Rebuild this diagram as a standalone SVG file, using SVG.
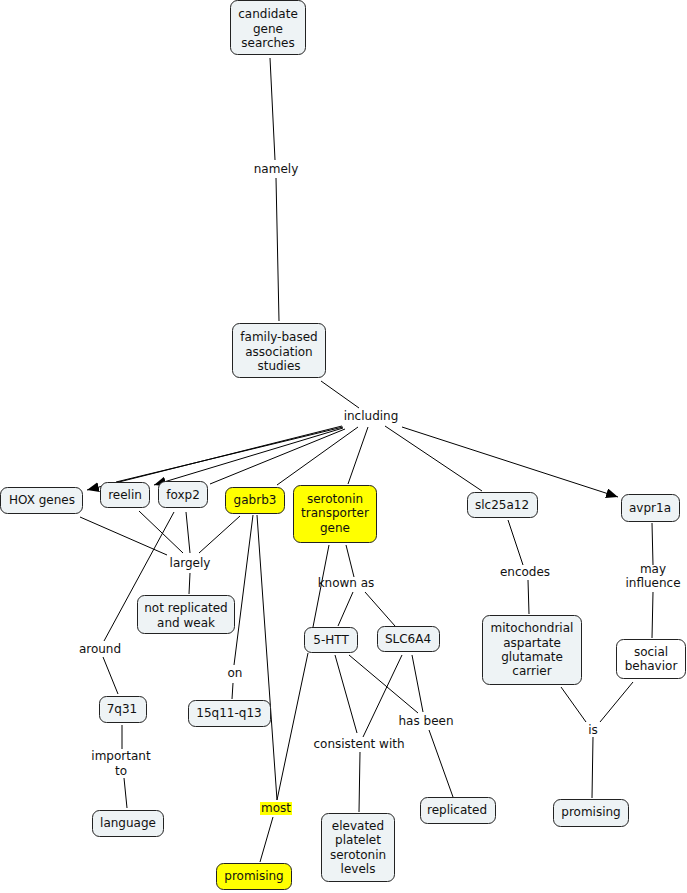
<svg xmlns="http://www.w3.org/2000/svg" width="687" height="893" viewBox="0 0 687 893">
<defs>
<marker id="arr" viewBox="0 0 12 10" refX="12" refY="5" markerWidth="12" markerHeight="10" markerUnits="userSpaceOnUse" orient="auto">
<path d="M0,0 L12,5 L0,10 z" fill="#000"/>
</marker>
<style>
.n{fill:#eef3f5;stroke:#222;stroke-width:1}
.y{fill:#ffff00;stroke:#222;stroke-width:1}
.w{fill:#ffffff;stroke:#222;stroke-width:1}
text{font-family:"DejaVu Sans",Verdana,sans-serif;font-size:12px;fill:#111;text-anchor:middle}
.c line{stroke:#000;stroke-width:1}
</style>
</defs>
<rect width="687" height="893" fill="#fff"/>
<g class="c" id="connectors">
<line x1="270" y1="58" x2="275" y2="160"/>
<line x1="276" y1="178" x2="279" y2="321"/>
<line x1="321" y1="381" x2="359" y2="408"/>
<line x1="342" y1="426" x2="87" y2="490" marker-end="url(#arr)"/>
<line x1="343" y1="427" x2="116" y2="482"/>
<line x1="343" y1="428" x2="154" y2="485" marker-end="url(#arr)"/>
<line x1="345" y1="429" x2="210" y2="484"/>
<line x1="358" y1="427" x2="277" y2="485"/>
<line x1="368" y1="427" x2="348" y2="484"/>
<line x1="385" y1="426" x2="482" y2="491"/>
<line x1="402" y1="427" x2="618" y2="497" marker-end="url(#arr)"/>
<line x1="80" y1="517" x2="167" y2="555"/>
<line x1="139" y1="511" x2="183" y2="553"/>
<line x1="186" y1="512" x2="190" y2="553"/>
<line x1="240" y1="516" x2="199" y2="553"/>
<line x1="190" y1="573" x2="189" y2="594"/>
<line x1="174" y1="512" x2="104" y2="641"/>
<line x1="103" y1="657" x2="118" y2="694"/>
<line x1="122" y1="725" x2="122" y2="749"/>
<line x1="124" y1="778" x2="127" y2="808"/>
<line x1="253" y1="515" x2="234" y2="665"/>
<line x1="233" y1="683" x2="232" y2="699"/>
<line x1="257" y1="515" x2="277" y2="800"/>
<line x1="273" y1="817" x2="260" y2="862"/>
<line x1="308" y1="653" x2="277" y2="800"/>
<line x1="329" y1="545" x2="313" y2="627"/>
<line x1="346" y1="545" x2="354" y2="577"/>
<line x1="353" y1="592" x2="338" y2="626"/>
<line x1="365" y1="592" x2="395" y2="626"/>
<line x1="335" y1="655" x2="357" y2="733"/>
<line x1="402" y1="655" x2="363" y2="737"/>
<line x1="360" y1="752" x2="359" y2="812"/>
<line x1="349" y1="655" x2="418" y2="713"/>
<line x1="412" y1="655" x2="423" y2="712"/>
<line x1="429" y1="730" x2="453" y2="797"/>
<line x1="508" y1="520" x2="523" y2="565"/>
<line x1="528" y1="580" x2="529" y2="614"/>
<line x1="652" y1="523" x2="653" y2="565"/>
<line x1="653" y1="592" x2="652" y2="638"/>
<line x1="561" y1="687" x2="586" y2="722"/>
<line x1="633" y1="682" x2="600" y2="722"/>
<line x1="593" y1="737" x2="592" y2="798"/>
</g>
<g id="candidate"><rect class="n" x="230.5" y="0.5" width="75" height="54" rx="7"/><text x="268" y="18">candidate</text><text x="268" y="33">gene</text><text x="268" y="47">searches</text></g>
<g id="family"><rect class="n" x="232.5" y="323.5" width="93" height="54" rx="7"/><text x="279" y="341">family-based</text><text x="279" y="356">association</text><text x="279" y="370">studies</text></g>
<g id="hox"><rect class="n" x="0.5" y="487.5" width="82" height="26" rx="7"/><text x="42" y="504">HOX genes</text></g>
<g id="reelin"><rect class="n" x="100.5" y="482.5" width="49" height="25" rx="7"/><text x="125" y="499">reelin</text></g>
<g id="foxp2"><rect class="n" x="158.5" y="481.5" width="49" height="26" rx="7"/><text x="183" y="499">foxp2</text></g>
<g id="gabrb3"><rect class="y" x="225.5" y="487.5" width="59" height="26" rx="7"/><text x="255" y="504">gabrb3</text></g>
<g id="sert"><rect class="y" x="293.5" y="485.5" width="83" height="57" rx="7"/><text x="335" y="503">serotonin</text><text x="335" y="517">transporter</text><text x="335" y="532">gene</text></g>
<g id="slc25a12"><rect class="n" x="467.5" y="492.5" width="70" height="25" rx="7"/><text x="502" y="509">slc25a12</text></g>
<g id="avpr1a"><rect class="n" x="621.5" y="494.5" width="58" height="27" rx="7"/><text x="650" y="512">avpr1a</text></g>
<g id="notrep"><rect class="n" x="137.5" y="595.5" width="97" height="38" rx="7"/><text x="186" y="612">not replicated</text><text x="186" y="627">and weak</text></g>
<g id="q31"><rect class="n" x="99.5" y="696.5" width="47" height="26" rx="7"/><text x="122" y="713">7q31</text></g>
<g id="language"><rect class="n" x="92.5" y="810.5" width="71" height="26" rx="7"/><text x="128" y="827">language</text></g>
<g id="q15"><rect class="n" x="188.5" y="700.5" width="82" height="26" rx="7"/><text x="229" y="717">15q11-q13</text></g>
<g id="htt"><rect class="n" x="304.5" y="627.5" width="53" height="25" rx="7"/><text x="331" y="644">5-HTT</text></g>
<g id="slc6a4"><rect class="n" x="377.5" y="626.5" width="62" height="25" rx="7"/><text x="408" y="643">SLC6A4</text></g>
<g id="replicated"><rect class="n" x="420.5" y="797.5" width="75" height="26" rx="7"/><text x="457" y="814">replicated</text></g>
<g id="elevated"><rect class="n" x="321.5" y="813.5" width="73" height="68" rx="7"/><text x="358" y="830">elevated</text><text x="358" y="844">platelet</text><text x="358" y="859">serotonin</text><text x="358" y="873">levels</text></g>
<g id="promising1"><rect class="y" x="216.5" y="863.5" width="75" height="26" rx="7"/><text x="254" y="880">promising</text></g>
<g id="mito"><rect class="n" x="482.5" y="615.5" width="99" height="69" rx="7"/><text x="532" y="632">mitochondrial</text><text x="532" y="647">aspartate</text><text x="532" y="661">glutamate</text><text x="532" y="675">carrier</text></g>
<g id="social"><rect class="w" x="616.5" y="639.5" width="69" height="39" rx="7"/><text x="651" y="656">social</text><text x="651" y="670">behavior</text></g>
<g id="promising2"><rect class="n" x="553.5" y="799.5" width="75" height="27" rx="7"/><text x="591" y="816">promising</text></g>
<g id="labels">
<text x="276" y="173">namely</text>
<text x="371" y="420">including</text>
<text x="190" y="567">largely</text>
<text x="100" y="653">around</text>
<text x="121" y="760">important</text>
<text x="121" y="775">to</text>
<text x="235" y="677">on</text>
<text x="346" y="587">known as</text>
<text x="426" y="725">has been</text>
<text x="359" y="748">consistent with</text>
<rect x="260" y="802" width="32" height="13" fill="#ffff00"/>
<text x="276" y="812">most</text>
<text x="525" y="576">encodes</text>
<text x="653" y="573">may</text>
<text x="653" y="587">influence</text>
<text x="593" y="734">is</text>
</g>
</svg>
